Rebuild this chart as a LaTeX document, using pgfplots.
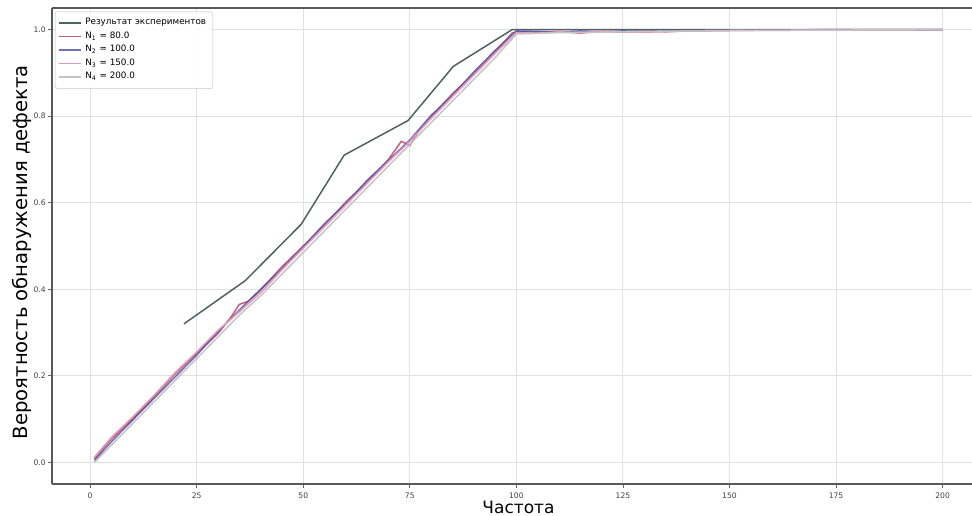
\documentclass[border=0pt]{standalone}
\usepackage{pgfplots}
\pgfplotsset{compat=1.18}
\usepackage{fontspec}
\setmainfont{DejaVu Sans}
\definecolor{cexp}{HTML}{4F6262}
\definecolor{cnone}{HTML}{C8607A}
\definecolor{cntwo}{HTML}{4A4AA8}
\definecolor{cnthree}{HTML}{E09AB8}
\definecolor{cnfour}{HTML}{C4C4C4}
\begin{document}
\begin{tikzpicture}
\begin{axis}[
  scale only axis,
  width=466.5pt, height=238pt,
  xmin=-8.95, xmax=209.95,
  ymin=-0.05, ymax=1.05,
  axis x line*=box, axis y line*=left,
  xtick pos=left, ytick pos=left,
  xtick={0,25,50,75,100,125,150,175,200},
  ytick={0,0.2,0.4,0.6,0.8,1.0},
  /pgf/number format/assume math mode=true,
  ticklabel style={font=\fontsize{3.8}{4}\selectfont, text=black!75},
  xticklabel style={yshift=0.8pt},
  yticklabel style={xshift=2.2pt, /pgf/number format/.cd,fixed,fixed zerofill,precision=1},
  tick align=outside,
  major tick length=1.8pt,
  tick style={black!60, line width=0.4pt},
  grid=major,
  grid style={black!12, line width=0.5pt},
  axis line style={black!65, line width=0.8pt},
  xlabel={Частота},
  ylabel={Вероятность обнаружения дефекта},
  xlabel style={font=\fontsize{8.5}{10}\selectfont, at={(axis description cs:0.5,0)}, anchor=center, yshift=-11.8pt},
  ylabel style={font=\fontsize{9.8}{11}\selectfont, at={(axis description cs:-0.032,0.487)}, anchor=center},
  legend style={font=\fontsize{4.4}{5}\selectfont, draw=black!15, rounded corners=1pt, fill=white, fill opacity=0.9, text opacity=1, row sep=-2.0pt, inner sep=1.3pt, at={(0.003,0.993)}, anchor=north west},
  legend cell align=left,
  legend image code/.code={\draw[mark repeat=2,mark phase=2,#1] plot coordinates {(0pt,0pt) (5.5pt,0pt) (11pt,0pt)};},
  every axis plot/.append style={line width=0.75pt},
]
\addplot[cexp] coordinates {
(22,0.32) (36.4,0.42) (49.5,0.55) (59.6,0.71) (74.6,0.79) (85.2,0.915) (99,1.0) (120,1.0) (150,1.0) (200,1.0)
};
\addlegendentry{Результат экспериментов}
\addplot[cnone] coordinates {
(1,0.008) (5,0.055) (10,0.10) (15,0.152) (20,0.205) (25,0.252) (30,0.298) (33,0.335) (35,0.365) (37,0.372) (40,0.398) (45,0.452) (50,0.50) (55,0.548) (60,0.602) (65,0.648) (70,0.70) (73,0.742) (75,0.732) (77,0.765) (80,0.798) (85,0.852) (90,0.898) (95,0.948) (99,0.992) (100,0.995) (105,0.994) (110,0.996) (115,0.992) (120,0.996) (125,0.994) (130,0.997) (135,0.995) (140,0.997) (150,0.998) (160,0.999) (175,1.0) (200,1.0)
};
\addlegendentry{N\textsubscript{1} = 80.0}
\addplot[cntwo, opacity=0.8] coordinates {
(1,0.004) (5,0.048) (10,0.098) (15,0.148) (20,0.198) (25,0.248) (30,0.302) (35,0.352) (40,0.40) (45,0.448) (50,0.498) (55,0.552) (60,0.598) (65,0.652) (70,0.698) (75,0.745) (80,0.802) (85,0.848) (90,0.902) (95,0.952) (100,0.997) (105,0.996) (110,0.994) (115,0.997) (120,0.995) (125,0.997) (130,0.996) (140,0.998) (150,0.999) (175,1.0) (200,1.0)
};
\addlegendentry{N\textsubscript{2} = 100.0}
\addplot[cnthree] coordinates {
(1,0.012) (5,0.058) (10,0.105) (15,0.155) (20,0.208) (25,0.255) (30,0.305) (35,0.348) (40,0.392) (45,0.445) (50,0.495) (55,0.545) (60,0.595) (65,0.645) (70,0.695) (75,0.742) (80,0.795) (85,0.845) (90,0.895) (95,0.945) (100,0.993) (105,0.992) (110,0.995) (115,0.993) (120,0.996) (125,0.995) (130,0.994) (140,0.997) (150,0.998) (175,0.999) (200,1.0)
};
\addlegendentry{N\textsubscript{3} = 150.0}
\addplot[cnfour] coordinates {
(1,0.0) (5,0.04) (10,0.09) (15,0.14) (20,0.19) (25,0.24) (30,0.29) (35,0.34) (40,0.385) (45,0.435) (50,0.485) (55,0.535) (60,0.585) (65,0.635) (70,0.685) (75,0.735) (80,0.785) (85,0.835) (90,0.885) (95,0.935) (100,0.99) (110,0.993) (120,0.994) (130,0.996) (150,0.998) (175,0.999) (200,1.0)
};
\addlegendentry{N\textsubscript{4} = 200.0}
\end{axis}
\pgfresetboundingbox
\path[use as bounding box] ([shift={(-26pt,-15.5pt)}]current axis.south west) rectangle ([shift={(460pt,4pt)}]current axis.north west);
\end{tikzpicture}
\end{document}
